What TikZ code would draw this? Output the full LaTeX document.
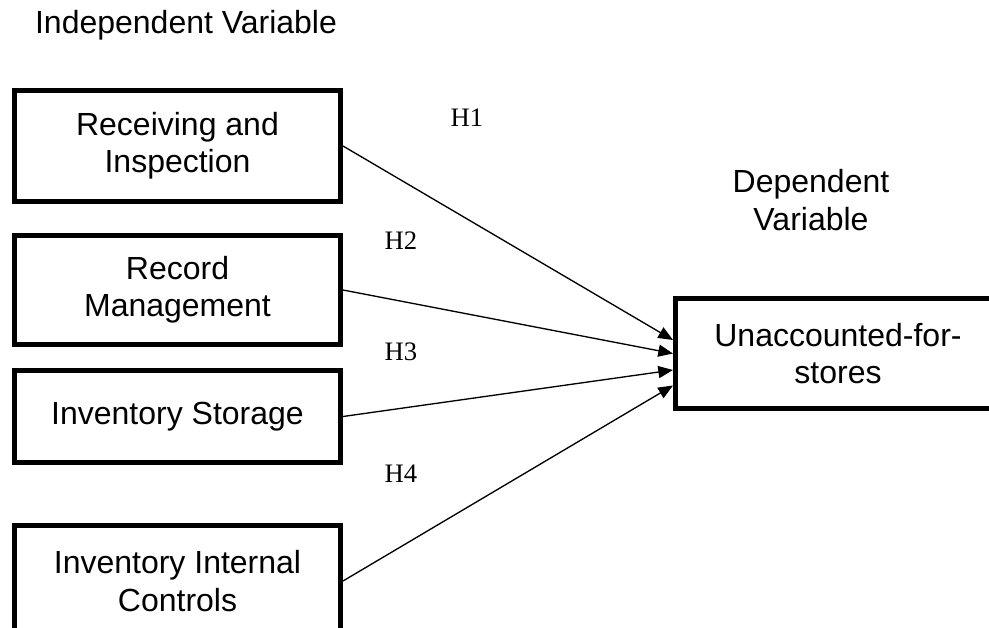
\documentclass[tikz,border=0pt]{standalone}
\usepackage{fontspec}
\setmainfont{Liberation Sans}
\newfontfamily\hypfont{Liberation Serif}
\usetikzlibrary{arrows.meta,calc}

\begin{document}
\begin{tikzpicture}[
  x=0.75pt, y=-0.75pt,
  var/.style={rectangle, draw, line width=3.75pt, minimum width=244.5pt, align=center, font=\fontsize{24}{28}\selectfont},
  heading/.style={align=center, font=\fontsize{24}{28}\selectfont},
  hyp/.style={font=\hypfont\fontsize{20}{22}\selectfont},
  arrow/.style={-{Triangle[length=11pt,width=9pt]}, line width=1pt}
]
\useasboundingbox (0,0) rectangle (989,628);
\clip (0,0) rectangle (989,628);

% Headings
\node[heading] (indep) at (186,25) {Independent Variable};
\node[heading] (dep) at (811,200) {Dependent\\Variable};

% Independent variables
\node[var, minimum height=83.25pt] (receiving) at (177.5,146) {Receiving and\\Inspection};
\node[var, minimum height=81.75pt] (record) at (177.5,290) {Record\\Management};
\node[var, minimum height=69pt] (storage) at (177.5,416.5) {Inventory Storage};
\node[var, minimum height=83.25pt] (controls) at (177.5,581) {Inventory Internal\\Controls};

% Dependent variable
\node[var, minimum width=243.75pt, minimum height=83pt] (unaccounted) at (838,353.5) {Unaccounted-for-\\stores};

% Hypotheses
\node[hyp] (h1) at (467,118) {H1};
\node[hyp] (h2) at (401,241) {H2};
\node[hyp] (h3) at (401,352) {H3};
\node[hyp] (h4) at (401,474) {H4};

% Arrows to the dependent variable
\draw[arrow] (receiving.east) -- ($(unaccounted.west)+(0,-13.5)$);
\draw[arrow] (record.east) -- ($(unaccounted.west)+(0,0)$);
\draw[arrow] (storage.east) -- ($(unaccounted.west)+(0,16.5)$);
\draw[arrow] (controls.east) -- ($(unaccounted.west)+(0,32)$);

\end{tikzpicture}
\end{document}
